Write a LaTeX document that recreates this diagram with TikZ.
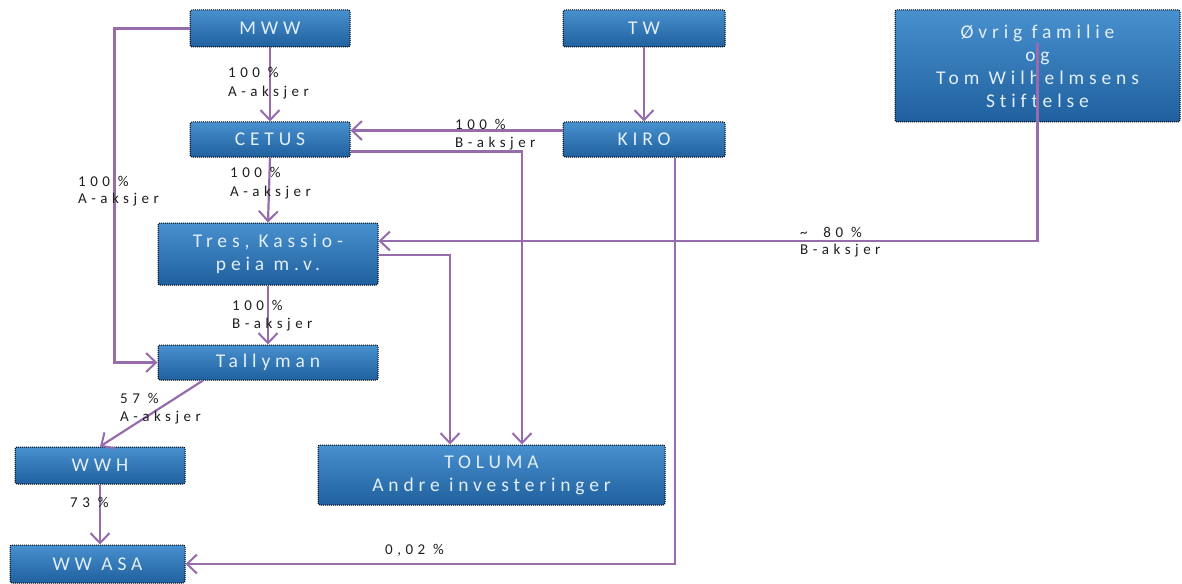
\documentclass[tikz,border=0pt]{standalone}
\usepackage{fontspec}
\setmainfont{Carlito}
\newfontfamily\boxfont[LetterSpace=25,Ligatures={NoCommon}]{Carlito}
\newfontfamily\lblfont[LetterSpace=30,Ligatures={NoCommon}]{Carlito}
\usetikzlibrary{arrows.meta}
\definecolor{boxtop}{RGB}{72,144,206}
\definecolor{boxbot}{RGB}{32,96,158}
\definecolor{boxtext}{RGB}{226,238,248}
\definecolor{conncol}{RGB}{150,108,172}
\definecolor{lblcol}{RGB}{30,30,30}
\tikzset{
  orgbox/.style={draw=black, densely dotted, line width=1pt, top color=boxtop, bottom color=boxbot,
    rounded corners=2pt, text=boxtext, font=\boxfont\fontsize{19.5}{23}\selectfont, align=center, inner sep=0pt},
  conn/.style={draw=conncol, line width=2.2pt, -{Straight Barb[length=10pt,width=19pt,line width=2pt]}},
  lbl/.style={anchor=west, text=lblcol, font=\lblfont\fontsize{15}{19}\selectfont, inner sep=0pt, align=left}
}
\begin{document}
\begin{tikzpicture}[x=1pt,y=-1pt]
\useasboundingbox (0,0) rectangle (1182,583);
% boxes
\node[orgbox, minimum width=160pt, minimum height=37pt] (MWW) at (270,28.5) {MWW};
\node[orgbox, minimum width=162pt, minimum height=37pt] (TW) at (644,28.5) {TW};
\node[orgbox, minimum width=285pt, minimum height=112pt] (OV) at (1037.5,66) {Øvrig familie\\og\\Tom Wilhelmsens\\Stiftelse};
\node[orgbox, minimum width=160pt, minimum height=35pt] (CETUS) at (270,139.5) {CETUS};
\node[orgbox, minimum width=162pt, minimum height=35pt] (KIRO) at (644,139.5) {KIRO};
\node[orgbox, minimum width=220pt, minimum height=62pt] (TRES) at (268,254) {Tres, Kassio-\\peia m.v.};
\node[orgbox, minimum width=220pt, minimum height=35pt] (TALLY) at (268,362.5) {Tallyman};
\node[orgbox, minimum width=170pt, minimum height=37pt] (WWH) at (100,465.5) {WWH};
\node[orgbox, minimum width=347pt, minimum height=60pt] (TOLUMA) at (491.5,475) {TOLUMA\\Andre investeringer};
\node[orgbox, minimum width=175pt, minimum height=38pt] (WWASA) at (97.5,564) {WW ASA};
% connectors
\draw[conn] (MWW.south) -- (CETUS.north);
\draw[conn] (MWW.west) -- ++(-75,0) |- (TALLY.west);
\draw[conn] (CETUS.south) -- (TRES.north);
\draw[conn] ([yshift=9pt]KIRO.west) -- ([yshift=9pt]CETUS.east);
\draw[conn] ([yshift=-12pt]CETUS.east) -| ([xshift=30.5pt]TOLUMA.north);
\draw[conn] (TW.south) -- (KIRO.north);
\draw[conn] ([xshift=31pt]KIRO.south) |- (WWASA.east);
\draw[conn] ([yshift=23pt]OV.center) |- ([yshift=13pt]TRES.east);
\draw[conn] ([yshift=-1pt]TRES.east) -| ([xshift=-41.5pt]TOLUMA.north);
\draw[conn] (TRES.south) -- (TALLY.north);
\draw[conn] ([xshift=-65pt]TALLY.south) -- (WWH.north);
\draw[conn] (WWH.south) -- (WWH.south |- WWASA.north);
% labels
\node[lbl] (l1) at (228,72) {100 \%};
\node[lbl] (l2) at (228,93) {A-aksjer};
\node[lbl] (l3) at (230,172) {100 \%};
\node[lbl] (l4) at (230,193) {A-aksjer};
\node[lbl] (l5) at (232,305) {100 \%};
\node[lbl] (l6) at (232,325) {B-aksjer};
\node[lbl] (l7) at (78,181) {100 \%};
\node[lbl] (l8) at (78,200) {A-aksjer};
\node[lbl] (l9) at (455,124) {100 \%};
\node[lbl] (l10) at (455,144) {B-aksjer};
\node[lbl] (l11) at (800,232) {\textasciitilde\ \ 80 \%};
\node[lbl] (l12) at (800,251) {B-aksjer};
\node[lbl] (l13) at (120,398) {57 \%};
\node[lbl] (l14) at (120,418) {A-aksjer};
\node[lbl] (l15) at (70,502) {73 \%};
\node[lbl] (l16) at (385,550) {0,02 \%};
\end{tikzpicture}
\end{document}
